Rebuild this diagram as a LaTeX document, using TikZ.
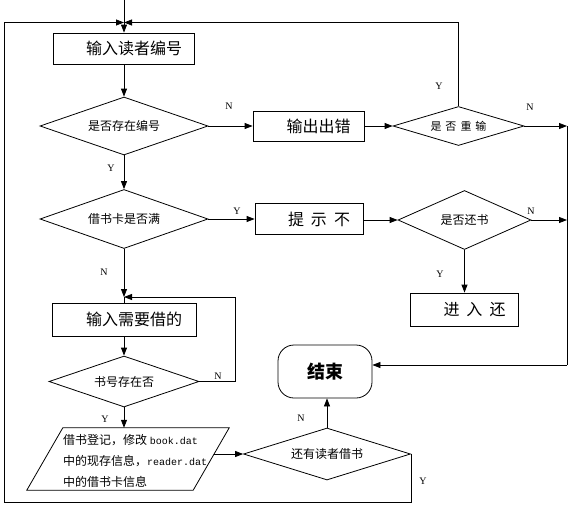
\documentclass[tikz,border=0pt]{standalone}
\usepackage{fontspec}
\setmainfont{Noto Sans CJK SC}
\newfontfamily\ynfont{Liberation Serif}
\newfontfamily\monofont{Liberation Mono}
\usetikzlibrary{shapes.geometric,arrows.meta,calc}
\begin{document}
\begin{tikzpicture}[x=1pt,y=-1pt,
 every node/.style={inner sep=0pt},
 line/.style={line width=0.8pt},
 arr/.style={line width=0.8pt,-{Triangle[length=8pt,width=6pt]}},
 procbox/.style={draw,line width=0.8pt,rectangle,font=\fontsize{16}{18}\selectfont},
 dec/.style={draw,line width=0.8pt,diamond,font=\fontsize{12}{14}\selectfont},
 yn/.style={font=\ynfont\fontsize{10}{12}\selectfont}]
\useasboundingbox (0,0) rectangle (570,504);
% nodes
\node[procbox,minimum width=141pt,minimum height=31pt] (b1) at (124,48.5) {\hspace*{20pt}输入读者编号};
\node[dec,minimum width=168pt,minimum height=58pt,shape aspect=2.9] (d1) at (124,126) {是否存在编号};
\node[procbox,minimum width=111pt,minimum height=30pt] (b2) at (308.5,126) {\hspace*{20pt}输出出错};
\node[dec,minimum width=131pt,minimum height=39pt,shape aspect=3.3,font=\fontsize{11}{13}\selectfont] (d4) at (458.5,126) {是\hspace{4pt}否\hspace{4pt}重\hspace{4pt}输};
\node[dec,minimum width=168pt,minimum height=59pt,shape aspect=2.85] (d2) at (124,219) {借书卡是否满};
\node[procbox,minimum width=108pt,minimum height=31pt] (b4) at (309,219) {\hspace*{20pt}提\hspace{7pt}示\hspace{7pt}不};
\node[dec,minimum width=133pt,minimum height=59pt,shape aspect=2.25] (d5) at (464.5,220) {是否还书};
\node[procbox,minimum width=108pt,minimum height=33pt] (b5) at (464.5,309.5) {\hspace*{20pt}进\hspace{7pt}入\hspace{7pt}还};
\node[procbox,minimum width=144pt,minimum height=33pt] (b3) at (124,319.5) {\hspace*{20pt}输入需要借的};
\node[dec,minimum width=150pt,minimum height=51pt,shape aspect=2.9] (d3) at (124,381.5) {书号存在否};
\node[rectangle,minimum width=166pt,minimum height=62pt] (pg) at (128,459) {};
\draw[line] ([xshift=18pt]pg.north west) -- ([xshift=18pt]pg.north east) -- ([xshift=-18pt]pg.south east) -- ([xshift=-18pt]pg.south west) -- cycle;
\node[anchor=west,align=left,font=\fontsize{12}{21}\selectfont] (pt) at (63,461) {借书登记，修改 {\monofont\fontsize{10}{21}\selectfont book.dat}\\中的现存信息，{\monofont\fontsize{10}{21}\selectfont reader.dat}\\中的借书卡信息};
\node[dec,minimum width=167pt,minimum height=52pt,shape aspect=3.2] (d6) at (327,454) {还有读者借书};
\node[draw,line width=0.8pt,rounded corners=16pt,minimum width=94pt,minimum height=53pt,font=\bfseries\fontsize{18}{20}\selectfont] (endn) at (325,371.5) {结束};
% coordinates
\coordinate (top) at (124,0);
\coordinate (jn) at (124,22.5);
\coordinate (bl) at (4,502);
\coordinate (rr1) at (567,126);
\coordinate (rr2) at (567,365);
\coordinate (jn2) at (124,297);
\coordinate (lp) at (235,297);
\coordinate (pgr) at ([xshift=3pt,yshift=5pt]pg.east);
% connectors
\draw[arr] (top) -- (b1.north);
\draw[arr] (b1) -- (d1);
\draw[arr] (d1) -- (b2);
\draw[arr] (b2) -- (d4);
\draw[arr] (d4.north) |- (jn);
\draw[arr] (d4.east) -- (rr1);
\draw[line] (rr1) -- (rr2);
\draw[arr] (rr2) -- (rr2 -| endn.east);
\draw[arr] (d1) -- (d2);
\draw[arr] (d2) -- (b4);
\draw[arr] (b4.east |- d5.west) -- (d5.west);
\draw[arr] (d5.east) -- (d5.east -| rr1);
\draw[arr] (d5) -- (b5);
\draw[arr] (d2) -- (jn2);
\draw[line] (jn2) -- (b3.north);
\draw[arr] (b3) -- (d3);
\draw[arr] (d3.east) -| (lp) -- (jn2);
\draw[arr] (d3.south) -- (d3.south |- pg.north);
\draw[arr] (pgr) -- (d6.west);
\draw[arr] (d6.north) -- (d6.north |- endn.south);
\draw[arr] (d6.east) |- (bl) |- (jn);
% labels
\node[yn] (l1) at (229,106) {N};
\node[yn] (l2) at (439,86) {Y};
\node[yn] (l3) at (530,107) {N};
\node[yn] (l4) at (111,168) {Y};
\node[yn] (l5) at (237,211) {Y};
\node[yn] (l6) at (531,211) {N};
\node[yn] (l7) at (440,274) {Y};
\node[yn] (l8) at (104,272) {N};
\node[yn] (l9) at (218,376) {N};
\node[yn] (l10) at (105,419) {Y};
\node[yn] (l11) at (301,418) {N};
\node[yn] (l12) at (423,481) {Y};
\end{tikzpicture}
\end{document}
